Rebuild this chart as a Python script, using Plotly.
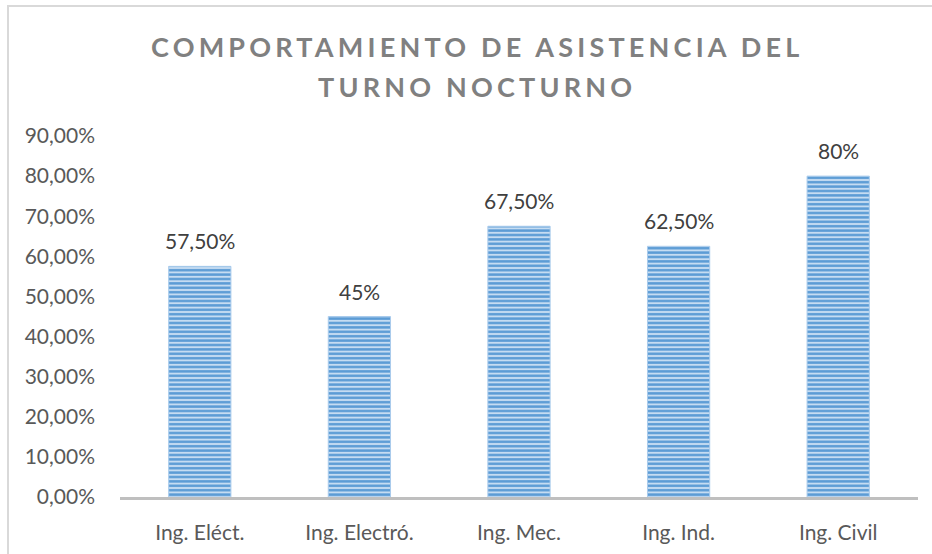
import plotly.graph_objects as go

categories = ["Ing. Eléct.", "Ing. Electró.", "Ing. Mec.", "Ing. Ind.", "Ing. Civil"]
values = [57.5, 45, 67.5, 62.5, 80]
value_labels = ["57,50%", "45%", "67,50%", "62,50%", "80%"]
tick_vals = [0, 10, 20, 30, 40, 50, 60, 70, 80, 90]
tick_text = ["0,00%", "10,00%", "20,00%", "30,00%", "40,00%", "50,00%",
             "60,00%", "70,00%", "80,00%", "90,00%"]
title_lines = ["COMPORTAMIENTO DE ASISTENCIA DEL", "TURNO NOCTURNO"]

FONT = "Lato, Carlito, Calibri, sans-serif"

fig = go.Figure()
fig.add_trace(go.Bar(
    x=categories, y=values,
    marker=dict(
        color="#c5dcf2",
        line=dict(color="#a9cbec", width=1),
        pattern=dict(shape="-", fgcolor="#5b9bd5", bgcolor="#c5dcf2",
                     size=4.4, solidity=0.55, fillmode="replace"),
    ),
    hoverinfo="skip",
))

W, H = 932, 554
L, R, T, B = 120, 14, 136, 57
pw, ph = W - L - R, H - T - B

def px_x(x):
    return (x - L) / pw

def px_y(y):
    return (H - B - y) / ph

annotations = []
for c, v, t in zip(categories, values, value_labels):
    annotations.append(dict(x=c, y=v, xref="x", yref="y", text=t, showarrow=False,
                            yanchor="bottom", yshift=11,
                            font=dict(family=FONT, size=21, color="#404040")))
for i, line in enumerate(title_lines):
    annotations.append(dict(
        x=px_x(477), y=px_y(47 + 39 * i), xref="paper", yref="paper",
        text='<span style="letter-spacing:4.2px">' + line + '</span>',
        showarrow=False, xanchor="center", yanchor="middle",
        font=dict(family=FONT, size=27, color="#808080", weight="bold")))

fig.update_layout(
    width=W, height=H,
    margin=dict(l=L, r=R, t=T, b=B, autoexpand=False),
    paper_bgcolor="white", plot_bgcolor="white",
    bargap=0.61,
    showlegend=False,
    annotations=annotations,
    shapes=[dict(type="rect", xref="paper", yref="paper",
                 x0=px_x(8), x1=px_x(960), y0=px_y(600), y1=px_y(6),
                 line=dict(color="#d9d9d9", width=2), layer="below")],
    xaxis=dict(showline=True, linecolor="#bfbfbf", linewidth=2.5,
               ticks="", showgrid=False, zeroline=False, automargin=False,
               tickfont=dict(family=FONT, size=21, color="#595959"),
               ticklabelstandoff=15),
    yaxis=dict(range=[0, 90], tickvals=tick_vals, ticktext=tick_text,
               showgrid=False, zeroline=False, showline=False, ticks="",
               automargin=False,
               tickfont=dict(family=FONT, size=21, color="#595959"),
               ticklabelstandoff=24),
)

fig.write_html("out.html", config={"displayModeBar": False},
               post_script="document.body.style.margin='0';document.body.style.overflow='hidden';")
